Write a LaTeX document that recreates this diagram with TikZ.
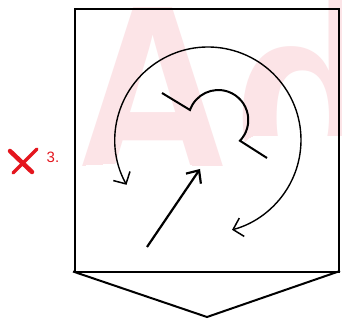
\documentclass[tikz,border=0pt]{standalone}
\usepackage{fontspec}
\setmainfont{Liberation Sans}
\newfontfamily\wmfont{Liberation Sans}
\usetikzlibrary{arrows.meta}
\definecolor{wmpink}{RGB}{252,228,231}
\definecolor{xred}{RGB}{228,22,30}
\tikzset{
  frame/.style={line width=2pt, black, line join=miter},
  ring/.style={line width=1.4pt, black, {Straight Barb[length=9pt,width=19pt,line width=1.5pt]}-{Straight Barb[length=9pt,width=19pt,line width=1.5pt]}},
  hat/.style={line width=2pt, black, line join=miter},
  push/.style={line width=2.2pt, black, -{Straight Barb[length=10pt,width=18pt,line width=2.2pt]}},
  cross/.style={xred, line cap=round},
  wm/.style={wmpink, inner sep=0pt, anchor=base west, font=\wmfont\bfseries\fontsize{260}{260}\selectfont}
}
\begin{document}
\begin{tikzpicture}[x=1pt,y=-1pt]
\useasboundingbox (0,0) rectangle (342,320);
\fill[white] (0,0) rectangle (342,320);
% watermark
\begin{scope}
  \clip (0,0) -- (342,0) -- (342,136) -- (252,136) .. controls (240,140) and (240,160) .. (228,166) -- (120,163) -- (0,170) -- cycle;
  \node[wm] (wmA) at (70,186) {\scalebox{0.88}[1]{A}};
  \node[wm] (wmD) at (233,186) {\scalebox{0.91}[1]{d}};
\end{scope}
% box and bottom chevron
\coordinate (tl) at (75,9.5);
\coordinate (br) at (339,272);
\coordinate (cl) at (73,271.5);
\coordinate (cr) at (340,271);
\coordinate (ct) at (207,317);
\draw[frame] (tl) rectangle (br);
\draw[frame] (cl) -- (ct) -- (cr);
% circular double arrow
\coordinate (rs) at (126.5,184.8);
\draw[ring] (rs) arc[start angle=151.2, end angle=435, radius=93];
% inner hat shape
\coordinate (h1) at (162,93);
\coordinate (h2) at (190,110);
\coordinate (h4) at (267,158);
\draw[hat] (h1) -- (h2) arc[start angle=199.5, end angle=403.7, radius=30] -- (h4);
% straight arrow
\coordinate (a1) at (147,247);
\coordinate (a2) at (200,169);
\draw[push] (a1) -- (a2);
% red cross and number
\coordinate (x1) at (10,151);
\coordinate (x2) at (32,172);
\coordinate (x3) at (37,149);
\coordinate (x4) at (13,173);
\draw[cross, line width=4.5pt] (x1) -- (x2);
\draw[cross, line width=3.2pt] (x3) -- (x4);
\node[xred, inner sep=0pt, font=\fontsize{15}{15}\selectfont] (num) at (53,157.5) {3.};
\end{tikzpicture}
\end{document}
